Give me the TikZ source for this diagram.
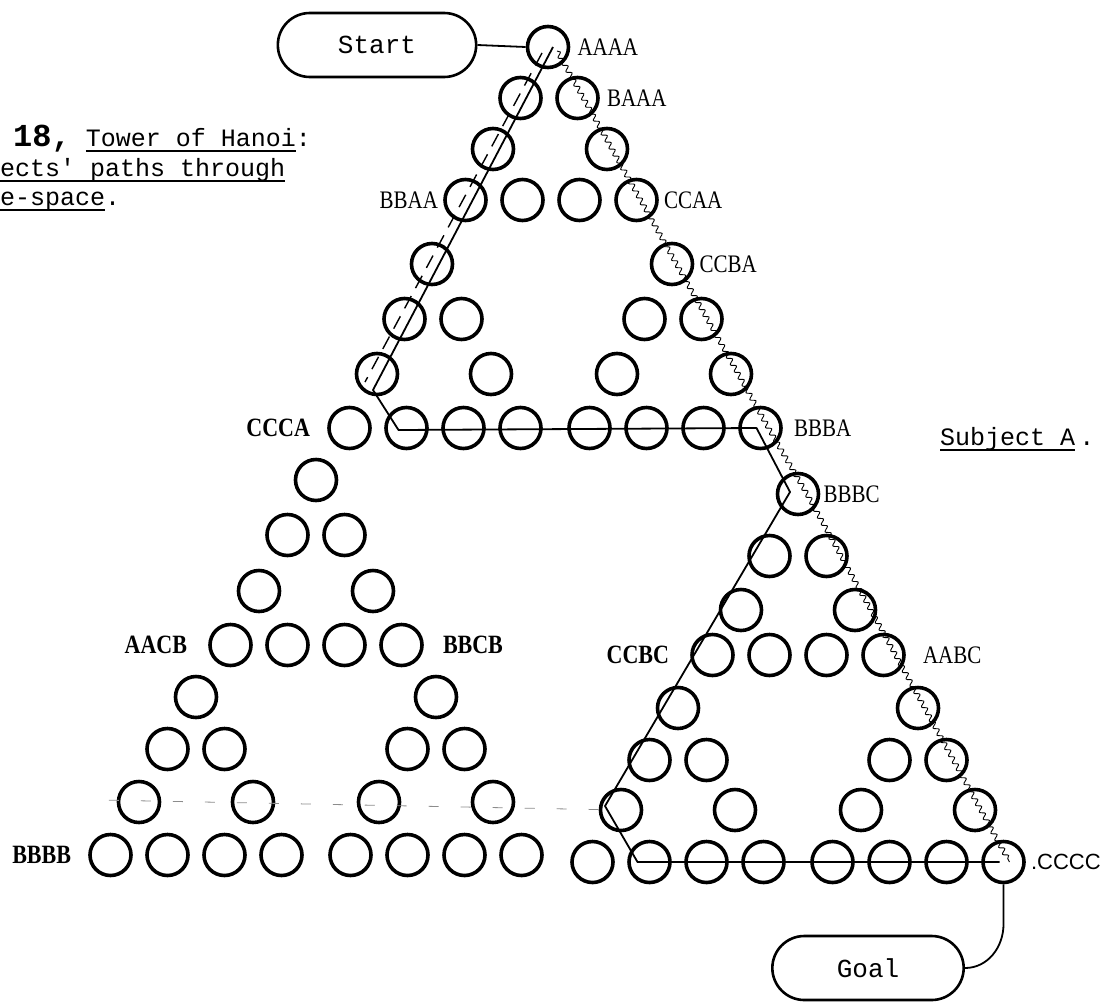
\documentclass[tikz,border=0pt]{standalone}
\usepackage{fontspec}
\usepackage{graphicx}
\setmainfont{Liberation Serif}
\newfontfamily\typew{Liberation Mono}
\newfontfamily\plainsans{Liberation Sans}
\usetikzlibrary{calc,decorations.pathmorphing,shapes.misc}
% underline with a heavy rule below the baseline
\newcommand\ulx[1]{\setbox0\hbox{#1}\rlap{\rule[-6pt]{\wd0}{2.4pt}}\box0}
% tall state names
\newcommand\tallname[1]{\scalebox{1}[1.2]{#1}}

% row heights of the three sub-triangles
\def\rowsTop{{47,98,149,200,264,319,374,428}}
\def\rowsLeft{{480,535,591,645,697,749,802,855}}
\def\rowsRight{{494,556,610,655,708,760,810,862}}

\tikzset{
  state/.style={circle, draw, line width=3.6pt, minimum size=41pt, inner sep=0pt},
  pill/.style={rounded rectangle, draw, line width=2.6pt, minimum width=205pt,
               minimum height=64pt, font=\typew\fontsize{26}{28}\selectfont},
  lab/.style={font=\fontsize{21}{23}\selectfont, inner sep=1pt},
  labb/.style={font=\bfseries\fontsize{22}{24}\selectfont, inner sep=1pt},
  route/.style={line width=1.8pt},
  trail/.style={line width=1.4pt, dash pattern=on 14pt off 9pt},
  wiggle/.style={line width=0.9pt, decorate,
                 decoration={snake, amplitude=2.4pt, segment length=8pt}},
  faint/.style={line width=0.8pt, black!45, dash pattern=on 10pt off 22pt},
  caption/.style={anchor=base west, inner sep=0pt, font=\typew\fontsize{25}{28}\selectfont}
}

\begin{document}
\begin{tikzpicture}[x=1pt,y=-1pt]
\useasboundingbox (0,0) rectangle (1107,1004);
\fill[white] (0,0) rectangle (1107,1004);

% the 81 states of the four-disk puzzle, placed recursively:
% digit 0 = upper sub-triangle, 1 = lower left, 2 = lower right
\foreach \p/\cx/\sk/\rows in {0/548/1/\rowsTop, 1/316/0/\rowsLeft, 2/798/0/\rowsRight}{
 \foreach \q/\qa/\qb in {0/0/0, 1/-1/1, 2/1/1}{
  \foreach \r/\ra/\rb in {0/0/0, 1/-1/1, 2/1/1}{
   \foreach \s/\sa/\sb in {0/0/0, 1/-1/1, 2/1/1}{
     \pgfmathtruncatemacro\k{4*\qb+2*\rb+\sb}
     \pgfmathsetmacro\yy{\rows[\k]}
     \pgfmathsetmacro\xx{\cx+\sk*\k+120*\qa+57*\ra+28.5*\sa}
     \node[state] (n\p\q\r\s) at (\xx,\yy) {};
   }}}}

% state labels
\node[lab, anchor=west] at ($(n0000.east)+(6,0)$) {\tallname{AAAA}};
\node[lab, anchor=west] at ($(n0002.east)+(6,0)$) {\tallname{BAAA}};
\node[lab, anchor=east] at ($(n0011.west)+(-4,0)$) {\tallname{BBAA}};
\node[lab, anchor=west] at ($(n0022.east)+(4,0)$) {\tallname{CCAA}};
\node[lab, anchor=west] at ($(n0200.east)+(4,0)$) {\tallname{CCBA}};
\node[labb, anchor=east] at ($(n0111.west)+(-16,0)$) {\tallname{CCCA}};
\node[lab, anchor=west] at ($(n0222.east)+(10,0)$) {\tallname{BBBA}};
\node[lab, anchor=west] at ($(n2000.east)+(2,0)$) {\tallname{BBBC}};
\node[labb, anchor=east] at ($(n1011.west)+(-20,0)$) {\tallname{AACB}};
\node[labb, anchor=west] at ($(n1022.east)+(18,0)$) {\tallname{BBCB}};
\node[labb, anchor=east] at ($(n2011.west)+(-20,0)$) {\tallname{CCBC}};
\node[lab, anchor=west] at ($(n2022.east)+(16,0)$) {\tallname{AABC}};
\node[labb, anchor=east] at ($(n1111.west)+(-16,0)$) {\tallname{BBBB}};
\node[anchor=west, inner sep=1pt, font=\plainsans\fontsize{22}{24}\selectfont]
  at ($(n2222.east)+(4,0)$) {.CCCC};

% start and goal
\node[pill] (start) at (377,45) {Start};
\node[pill, minimum width=198pt, minimum height=64pt] (goal) at (868,968) {Goal};
\draw[route] (start.east) -- (n0000.west);
\draw[route] (n2222.south) -- ($(n2222.south)+(0,40)$)
  to[out=-90,in=0] (goal.east);

% caption and subject tag
\node[caption] (cap1) at (13,146)
  {{\bfseries\fontsize{32}{34}\selectfont 18,} \ulx{Tower of Hanoi}:};
\node[caption] (cap2) at (0,176) {\ulx{ects' paths through}};
\node[caption] (cap3) at (0,205) {\ulx{e-space}.};
\node[caption] (subj) at (940,445) {\ulx{Subject A}\,.};

% first path: solid line
\draw[route, line join=round]
  ($(n0000)+(5,0)$) -- ($(n0110)+(-4,16)$) -- ($(n0112)+(-8,2)$)
  -- ($(n0222)+(-4,0)$) -- ($(n2000)+(-8,-2)$) -- ($(n2110)+(-16,-4)$)
  -- ($(n2112)+(-12,0)$) -- ($(n2222)+(-4,0)$);

% second path: dashed line beside the first
\draw[trail] ($(n0000)+(-6,6)$) -- ($(n0110)+(-12,8)$);

% third path: wavy line down the right-hand edge
\draw[wiggle] ($(n0000)+(9,4)$) -- ($(n0222)+(8,0)$)
  -- ($(n2000)+(9,0)$) -- ($(n2222)+(6,0)$);

% faint dashed trace along the lower rows
\coordinate (lowleft) at ($(n1110)+(-40,-2)$);
\draw[faint] (n2110) -- (lowleft);
\end{tikzpicture}
\end{document}
